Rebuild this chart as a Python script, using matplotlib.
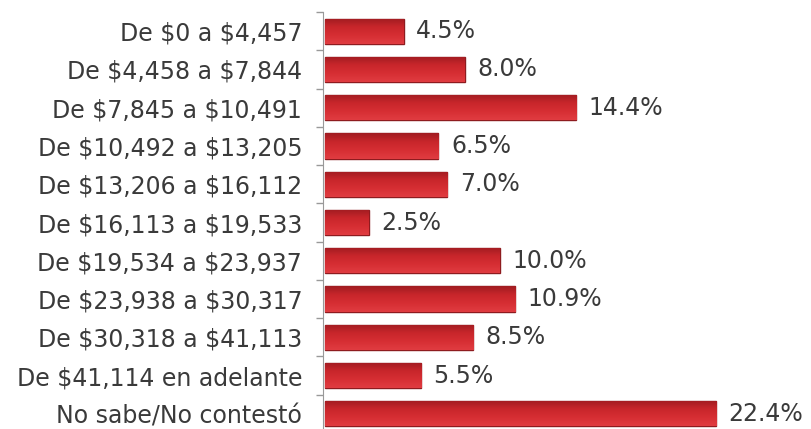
import numpy as np
import matplotlib.pyplot as plt
from matplotlib.colors import LinearSegmentedColormap

# rangos de ingreso mensual y porcentaje de respuestas
rangos = [r'De \$0 a \$4,457', r'De \$4,458 a \$7,844', r'De \$7,845 a \$10,491',
          r'De \$10,492 a \$13,205', r'De \$13,206 a \$16,112', r'De \$16,113 a \$19,533',
          r'De \$19,534 a \$23,937', r'De \$23,938 a \$30,317', r'De \$30,318 a \$41,113',
          r'De \$41,114 en adelante', 'No sabe/No contestó']
porcentajes = [4.5, 8.0, 14.4, 6.5, 7.0, 2.5, 10.0, 10.9, 8.5, 5.5, 22.4]

W, H = 811, 429
fig = plt.figure(figsize=(W/100, H/100), dpi=100)
ax = fig.add_axes([323/W, (H-433)/H, (W-323)/W, 421/H])

n = len(rangos)
y = np.arange(n)
barras = ax.barh(y, porcentajes, height=0.66, left=0, color='#d22b30',
                 edgecolor='#8e1b1f', linewidth=1.0, zorder=2)

# degradado vertical dentro de cada barra (más oscuro abajo)
grad = LinearSegmentedColormap.from_list('rojo', ['#e03c41', '#d62e33', '#c8262b', '#a01c21'])
g = np.linspace(0, 1, 64).reshape(-1, 1)
for b in barras:
    x0, y0 = b.get_x(), b.get_y()
    im = ax.imshow(g[::-1], cmap=grad, aspect='auto', zorder=2.5,
                   extent=[x0, x0 + b.get_width(), y0 + b.get_height(), y0])
    im.set_clip_path(b)

for yi, v in zip(y, porcentajes):
    ax.annotate(f'{v:.1f}%', (v, yi), xytext=(9, 0), textcoords='offset points',
                va='center', ha='left', fontsize=17, color='#3a3a3a')

ax.set_xlim(-0.11, (W-325)/17.46)
ax.set_ylim(n - 0.5, -0.5)

ax.set_yticks(y)
ax.set_yticklabels(rangos, fontsize=17, color='#3a3a3a')
ax.set_yticks(np.arange(n + 1) - 0.5, minor=True)
ax.tick_params(axis='y', which='major', length=0, pad=15)
ax.tick_params(axis='y', which='minor', length=5, color='#999999', width=1)
ax.set_xticks([])

for s in ['top', 'right', 'bottom']:
    ax.spines[s].set_visible(False)
ax.spines['left'].set_color('#999999')

fig.savefig('out.png', dpi=100)
